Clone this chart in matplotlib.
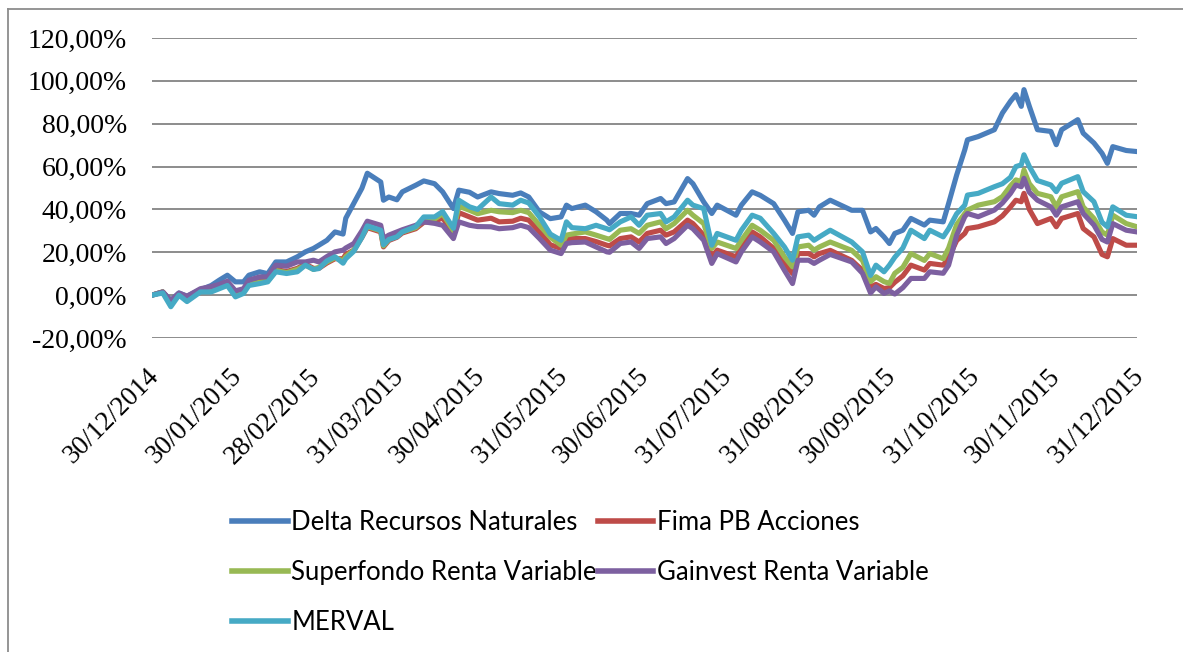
import numpy as np
import matplotlib
matplotlib.use("Agg")
import matplotlib.pyplot as plt
import matplotlib.transforms as mtransforms
from matplotlib.lines import Line2D

# fechas (muestras aproximadas)
dates = [
    "2014-12-30", "2015-01-03", "2015-01-06", "2015-01-09", "2015-01-12", "2015-01-17",
    "2015-01-21", "2015-01-24", "2015-01-27", "2015-01-30", "2015-02-02", "2015-02-04",
    "2015-02-08", "2015-02-11", "2015-02-14", "2015-02-18", "2015-02-22", "2015-02-25",
    "2015-02-28", "2015-03-02", "2015-03-05", "2015-03-08", "2015-03-11", "2015-03-12",
    "2015-03-15", "2015-03-18", "2015-03-20", "2015-03-25", "2015-03-26", "2015-03-28",
    "2015-03-31", "2015-04-02", "2015-04-07", "2015-04-10", "2015-04-14", "2015-04-17",
    "2015-04-21", "2015-04-23", "2015-04-27", "2015-04-30", "2015-05-05", "2015-05-08",
    "2015-05-13", "2015-05-16", "2015-05-19", "2015-05-23", "2015-05-27", "2015-05-31",
    "2015-06-02", "2015-06-04", "2015-06-09", "2015-06-13", "2015-06-17", "2015-06-18",
    "2015-06-22", "2015-06-26", "2015-06-29", "2015-07-02", "2015-07-07", "2015-07-09",
    "2015-07-12", "2015-07-17", "2015-07-19", "2015-07-23", "2015-07-26", "2015-07-28",
    "2015-08-04", "2015-08-06", "2015-08-10", "2015-08-13", "2015-08-18", "2015-08-22",
    "2015-08-25", "2015-08-27", "2015-08-31", "2015-09-02", "2015-09-04", "2015-09-08",
    "2015-09-16", "2015-09-20", "2015-09-23", "2015-09-25", "2015-09-28", "2015-09-30",
    "2015-10-02", "2015-10-05", "2015-10-08", "2015-10-13", "2015-10-15", "2015-10-20",
    "2015-10-22", "2015-10-25", "2015-10-28", "2015-10-29", "2015-11-02", "2015-11-08",
    "2015-11-11", "2015-11-14", "2015-11-16", "2015-11-18", "2015-11-19", "2015-11-21",
    "2015-11-24", "2015-11-29", "2015-12-01", "2015-12-03", "2015-12-09", "2015-12-11",
    "2015-12-15", "2015-12-18", "2015-12-20", "2015-12-22", "2015-12-27", "2015-12-31",
]

delta = [
    0, 1.5, -2.5, 1.0, -0.5, 2.5, 4.5, 7.0, 9.3, 6.2, 6.2, 9.3,
    10.9, 10.0, 15.5, 15.5, 17.9, 20.2, 21.8, 23.3, 25.6, 29.5, 28.5, 35.9,
    42.9, 49.9, 56.9, 52.8, 44.3, 45.8, 44.5, 48.2, 51.3, 53.3, 52.0, 48.2,
    40.4, 49.0, 48.0, 45.8, 48.2, 47.4, 46.6, 47.7, 45.8, 38.8, 35.7, 36.5,
    42.0, 40.4, 42.0, 38.9, 35.0, 33.4, 38.1, 38.1, 37.3, 42.7, 45.1, 42.7,
    43.5, 54.4, 52.0, 43.5, 38.1, 42.0, 37.3, 42.0, 48.2, 46.6, 42.7, 35.0,
    28.8, 38.9, 39.6, 37.3, 41.2, 44.3, 39.6, 39.6, 29.5, 31.1, 27.2, 24.1,
    28.8, 30.3, 35.8, 32.7, 35.0, 34.2, 42.8, 56.1, 67.8, 72.5, 74.0, 77.2,
    85.0, 90.5, 93.6, 88.1, 95.9, 88.1, 77.2, 76.4, 70.2, 77.2, 81.9, 75.6,
    71.0, 66.2, 61.5, 69.3, 67.5, 67.0,
]

fima = [
    0, 1.5, -3.5, 0.5, -1.5, 2.0, 3.0, 4.0, 6.0, 1.0, 2.0, 5.5,
    6.5, 7.0, 12.0, 11.0, 12.5, 14.5, 12.5, 12.5, 15.0, 17.0, 17.0, 19.0,
    21.0, 27.0, 31.5, 29.5, 22.5, 25.5, 27.0, 29.0, 31.0, 34.0, 34.5, 36.0,
    29.0, 38.5, 36.5, 35.0, 35.9, 34.2, 34.5, 35.9, 35.0, 29.5, 23.5, 21.8,
    26.4, 26.4, 26.4, 25.0, 23.3, 23.0, 26.4, 27.2, 24.8, 28.8, 30.3, 28.0,
    29.5, 35.0, 33.4, 28.0, 17.9, 21.0, 17.9, 21.8, 29.5, 27.2, 21.8, 14.8,
    10.1, 19.4, 19.4, 17.9, 19.4, 20.9, 16.2, 11.6, 3.9, 5.0, 3.1, 3.5,
    6.0, 9.0, 14.0, 11.7, 14.8, 14.0, 17.5, 25.5, 28.8, 31.1, 31.9, 34.2,
    37.0, 41.2, 44.3, 43.6, 47.5, 40.0, 33.4, 35.8, 31.9, 35.8, 38.1, 31.1,
    27.2, 19.0, 17.9, 26.4, 23.3, 23.3,
]

superfondo = [
    0, 1.5, -4.0, 0.5, -1.5, 2.0, 3.0, 4.0, 5.5, 0.5, 1.5, 5.0,
    6.0, 6.5, 11.5, 10.5, 12.0, 14.0, 12.0, 13.0, 15.5, 17.5, 16.0, 18.0,
    21.0, 27.5, 32.0, 30.0, 23.0, 26.0, 27.5, 29.5, 31.5, 35.0, 35.5, 38.0,
    30.0, 41.5, 39.6, 38.0, 39.6, 38.9, 38.5, 39.6, 38.5, 32.6, 27.0, 23.3,
    28.0, 28.5, 29.5, 28.0, 26.4, 26.0, 30.3, 31.0, 28.8, 32.6, 34.2, 31.0,
    33.4, 39.6, 37.3, 33.4, 21.8, 24.8, 21.8, 25.6, 32.6, 30.3, 25.6, 17.9,
    13.2, 22.5, 23.3, 21.0, 22.5, 24.8, 20.9, 16.2, 6.3, 8.6, 6.3, 5.5,
    10.2, 13.0, 19.4, 16.2, 19.4, 17.0, 22.0, 33.0, 38.1, 39.7, 42.0, 43.6,
    46.0, 51.0, 53.8, 53.0, 58.4, 52.0, 47.5, 45.9, 41.2, 45.9, 48.3, 41.2,
    35.8, 29.5, 28.0, 37.3, 33.4, 31.9,
]

gainvest = [
    0, 1.5, -2.5, 1.0, -0.5, 3.0, 4.0, 5.0, 6.5, 2.0, 3.0, 7.0,
    8.5, 8.5, 14.0, 13.5, 15.5, 15.5, 16.3, 15.5, 18.0, 20.2, 21.0, 22.0,
    24.1, 30.0, 34.5, 32.6, 26.4, 28.0, 29.5, 30.5, 32.6, 34.2, 33.5, 32.6,
    26.4, 34.2, 32.6, 32.0, 31.9, 31.0, 31.5, 32.6, 31.5, 26.4, 21.0, 19.4,
    24.1, 24.5, 24.8, 22.5, 20.2, 20.0, 24.1, 24.8, 21.8, 26.4, 27.2, 24.1,
    26.4, 32.6, 31.0, 25.6, 14.8, 19.4, 15.5, 20.2, 27.2, 24.8, 20.2, 11.6,
    5.4, 16.3, 16.3, 14.8, 16.3, 19.0, 15.5, 10.2, 1.0, 3.9, 0.8, 2.0,
    0.5, 3.5, 7.8, 7.8, 10.9, 10.2, 14.0, 28.0, 36.6, 38.1, 36.6, 39.7,
    43.0, 47.5, 51.4, 50.6, 54.5, 48.0, 44.3, 41.2, 37.3, 41.2, 43.6, 38.1,
    32.7, 26.0, 24.8, 33.4, 30.3, 29.5,
]

merval = [
    0, 1.0, -5.4, 0.0, -3.0, 1.5, 1.5, 3.0, 4.5, -0.8, 0.8, 4.5,
    5.4, 6.2, 10.9, 10.1, 10.9, 14.0, 12.0, 12.4, 16.0, 17.9, 14.9, 17.0,
    20.5, 27.0, 32.3, 30.3, 23.5, 26.0, 27.2, 29.5, 32.0, 36.5, 36.5, 39.0,
    31.2, 44.3, 41.2, 40.0, 45.8, 42.7, 42.0, 44.3, 43.0, 36.5, 28.5, 25.6,
    34.2, 31.5, 31.0, 32.6, 31.0, 30.5, 34.2, 36.5, 32.6, 37.3, 38.1, 34.2,
    36.5, 44.3, 42.0, 40.4, 23.3, 28.8, 25.6, 30.3, 37.3, 35.9, 28.8, 22.5,
    16.3, 27.2, 28.0, 25.6, 27.2, 30.3, 24.8, 20.2, 9.2, 14.0, 10.9, 14.0,
    17.7, 22.0, 30.3, 26.4, 30.3, 27.2, 31.0, 38.0, 42.0, 46.7, 47.5, 50.6,
    52.0, 55.0, 60.0, 60.8, 65.5, 60.0, 53.5, 51.4, 48.3, 52.2, 55.3, 48.3,
    43.6, 34.0, 31.9, 41.2, 37.3, 36.6,
]

series_names = ["Delta Recursos Naturales", "Fima PB Acciones", "Superfondo Renta Variable",
                "Gainvest Renta Variable", "MERVAL"]
colors = ["#4A7EBB", "#BE4B48", "#98B954", "#7D60A0", "#46AAC5"]

tick_dates = ["2014-12-30", "2015-01-30", "2015-02-28", "2015-03-31", "2015-04-30",
              "2015-05-31", "2015-06-30", "2015-07-31", "2015-08-31", "2015-09-30",
              "2015-10-31", "2015-11-30", "2015-12-31"]

x = np.array(dates, dtype="datetime64[D]")
xt = np.array(tick_dates, dtype="datetime64[D]")

W, H = 1183, 652
fig = plt.figure(figsize=(W / 100, H / 100), dpi=100)
ax = fig.add_axes([152 / W, 1 - 338 / H, (1137 - 152) / W, 300 / H])

lines = []
for vals, name, c in zip([delta, fima, superfondo, gainvest, merval], series_names, colors):
    ln, = ax.plot(x, vals, color=c, lw=3.7, solid_joinstyle="round", label=name)
    lines.append(ln)

ax.set_ylim(-20, 120)
ax.set_yticks(np.arange(-20, 121, 20))
ax.yaxis.set_major_formatter(plt.FuncFormatter(lambda v, p: f"{v:.2f}%".replace(".", ",")))
ax.set_xlim(x[0], np.datetime64("2015-12-31"))
ax.set_xticks(xt)
ax.set_xticklabels([d.astype(object).strftime("%d/%m/%Y") for d in xt])

ax.grid(axis="y", color="#8C8C8C", lw=1.4)
ax.set_axisbelow(True)
for s in ax.spines.values():
    s.set_visible(False)
ax.tick_params(length=0)
ax.tick_params(axis="y", pad=18)
ax.tick_params(axis="x", pad=25)
for t in ax.get_yticklabels():
    t.set_fontfamily("Liberation Serif")
    t.set_fontsize(20)
offset = mtransforms.ScaledTranslation(0.03, 0, fig.dpi_scale_trans)
for t in ax.get_xticklabels():
    t.set_fontfamily("Liberation Serif")
    t.set_fontsize(19.5)
    t.set_rotation(45)
    t.set_ha("right")
    t.set_va("center")
    t.set_rotation_mode("anchor")
    t.set_transform(t.get_transform() + offset)

# legend, filled row by row like the original
order = [0, 2, 4, 1, 3]
leg = fig.legend([lines[i] for i in order], [series_names[i] for i in order],
                 ncol=2, loc="upper left", bbox_to_anchor=(222 / W, 1 - 500 / H),
                 frameon=False, prop={"family": "Lato", "size": 18.5},
                 handlelength=2.15, handletextpad=0.15, columnspacing=0.05,
                 labelspacing=0.96, borderaxespad=0)
for h in leg.legend_handles:
    h.set_linewidth(4.0)

# chart area border (left and top visible)
fig.add_artist(Line2D([8 / W, 8 / W], [0, 1 - 9 / H], color="#8C8C8C", lw=1.3))
fig.add_artist(Line2D([8 / W, 1], [1 - 9 / H, 1 - 9 / H], color="#8C8C8C", lw=1.3))

fig.savefig("out.png", dpi=100)
